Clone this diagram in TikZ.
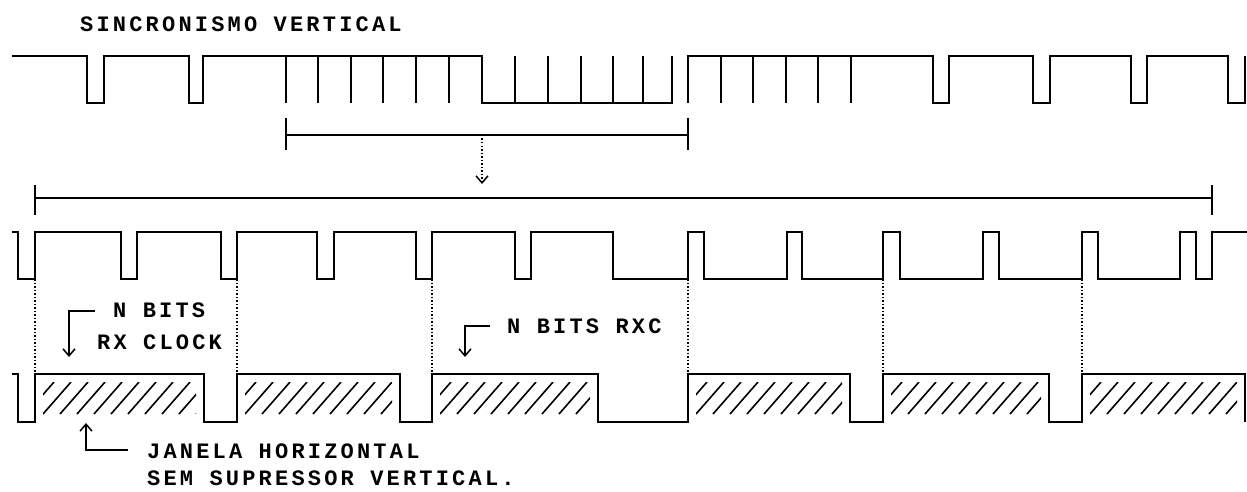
\documentclass[tikz,border=0pt]{standalone}
\usepackage{fontspec}
\usetikzlibrary{arrows.meta}
\newfontfamily\plotfont[LetterSpace=14.5]{Liberation Mono Bold}

\begin{document}
\begin{tikzpicture}[x=1pt,y=-1pt,
    wave/.style={line width=1.8pt},
    bar/.style={line width=1.5pt},
    sync/.style={line width=1.7pt,dash pattern=on 1.5pt off 2pt},
    hatch/.style={line width=1.6pt},
    ptr/.style={line width=1.5pt,-{Straight Barb[length=7pt,width=12pt]}},
    lbl/.style={inner sep=0pt,anchor=base west,font=\plotfont\fontsize{22}{24}\selectfont}]
  \useasboundingbox (0,0) rectangle (1247,492);

  % vertical sync line
  \node[lbl] (vsync) at (80,32) {SINCRONISMO VERTICAL};
  \draw[wave] (12,56) -| (87,103) -| (104,56) -| (189,103) -| (203,56) -| (482,103) -| (672,56);
  \draw[wave] (688,103) -- (688,56) -| (933,103) -| (949,56) -| (1033,103) -| (1050,56)
    -| (1131,103) -| (1147,56) -| (1228,103) -| (1245,56);
  \foreach \t in {286,318,351,383,416,449,515,548,581,613,643,721,753,786,818,851}
    \draw[wave] (\t,56) -- (\t,103);

  % spans
  \coordinate (spanL) at (286,135);
  \coordinate (spanR) at (688,135);
  \coordinate (spanmid) at (482,135);
  \coordinate (spanend) at (482,184);
  \draw[bar] (286,118) -- (286,150);
  \draw[bar] (688,118) -- (688,150);
  \draw[bar] (spanL) -- (spanR);
  \draw[sync,ptr] (spanmid) -- (spanend);
  \coordinate (fullL) at (35,198);
  \coordinate (fullR) at (1212,198);
  \draw[bar] (35,185) -- (35,215);
  \draw[bar] (1212,185) -- (1212,215);
  \draw[bar] (fullL) -- (fullR);

  % rx clock
  \draw[wave] (12,232) -| (18,279) -| (35,232) -| (121,279) -| (137,232) -| (221,279)
    -| (237,232) -| (317,279) -| (334,232) -| (416,279) -| (432,232) -| (515,279)
    -| (531,232) -| (613,279) -| (688,232) -| (704,279) -| (787,232) -| (802,279)
    -| (883,232) -| (900,279) -| (983,232) -| (999,279) -| (1082,232) -| (1098,279)
    -| (1180,232) -| (1196,279) -| (1212,232) -- (1247,232);
  \foreach \t in {35,237,432,688,883,1082}
    \draw[sync] (\t,279) -- (\t,374);

  % horizontal window
  \draw[wave] (12,374) -| (18,422) -| (35,374) -| (204,422) -| (237,374) -| (400,422)
    -| (432,374) -| (598,422) -| (688,374) -| (850,422) -| (883,374) -| (1049,422)
    -| (1082,374) -| (1245,422);
  \foreach \a/\b in {35/204,237/400,432/598,688/850,883/1049,1082/1245} {
    \begin{scope}
      \clip (\a+8,382) rectangle (\b-8,414);
      \foreach \k in {-2,...,10}
        \draw[hatch] ({\a+8+17*\k},414) -- ++(28,-32);
    \end{scope}
  }

  % labels
  \node[lbl] (nbits) at (113,317) {N BITS};
  \node[lbl] (rxclock) at (97,349) {RX CLOCK};
  \coordinate (clkA) at (95,311);
  \coordinate (clkB) at (69,357);
  \draw[ptr] (clkA) -| (clkB);
  \node[lbl] (nbitsrxc) at (507,333) {N BITS RXC};
  \coordinate (rxcA) at (490,326);
  \coordinate (rxcB) at (465,357);
  \draw[ptr] (rxcA) -| (rxcB);
  \node[lbl] (janela) at (147,458) {JANELA HORIZONTAL};
  \node[lbl] (semsup) at (147,485) {SEM SUPRESSOR VERTICAL.};
  \coordinate (winA) at (128,450);
  \coordinate (winB) at (86,423);
  \draw[ptr] (winA) -| (winB);
\end{tikzpicture}
\end{document}
